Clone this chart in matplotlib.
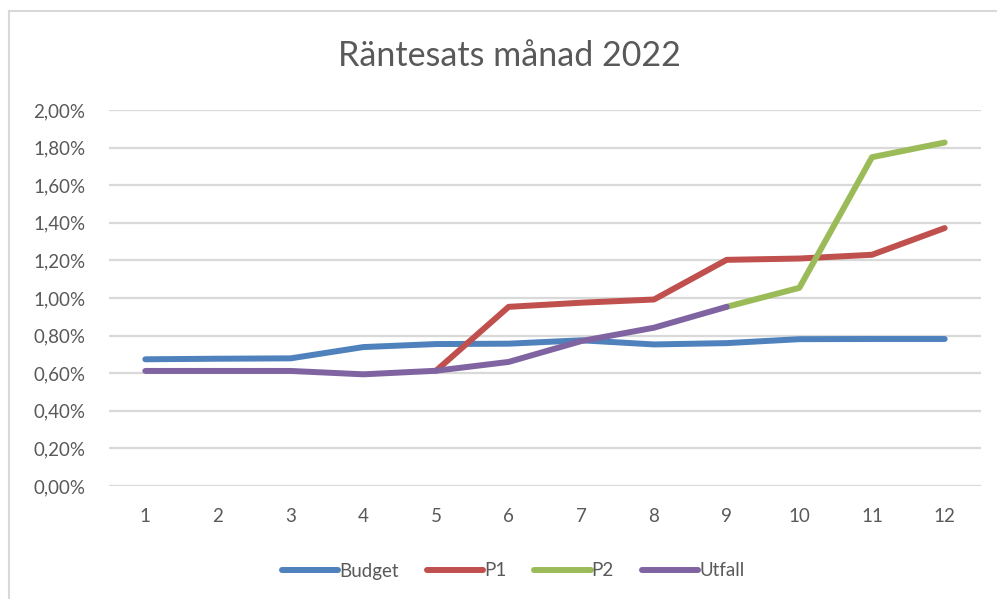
import numpy as np
import matplotlib
matplotlib.use("Agg")
import matplotlib.pyplot as plt
from matplotlib.lines import Line2D
from matplotlib.ticker import FuncFormatter

months = [1, 2, 3, 4, 5, 6, 7, 8, 9, 10, 11, 12]
nan = np.nan
budget = [0.674, 0.677, 0.679, 0.739, 0.755, 0.757, 0.775, 0.753, 0.760, 0.781, 0.782, 0.782]
p1 = [nan, nan, nan, nan, 0.613, 0.953, 0.975, 0.992, 1.203, 1.210, 1.230, 1.372]
p2 = [nan, nan, nan, nan, nan, nan, nan, nan, 0.953, 1.054, 1.749, 1.827]
utfall = [0.612, 0.612, 0.612, 0.594, 0.613, 0.660, 0.771, 0.842, 0.953, nan, nan, nan]
series_names = ["Budget", "P1", "P2", "Utfall"]
colors = ["#4F81BD", "#C0504D", "#9BBB59", "#8064A2"]
title = "Räntesats månad 2022"

plt.rcParams['font.family'] = ['Lato', 'DejaVu Sans']
txt = "#595959"

W, H = 997, 599
fig = plt.figure(figsize=(W / 100, H / 100), dpi=100)
ax = fig.add_axes([109 / W, 1 - 486 / H, (981 - 109) / W, (486 - 110) / H])

x = np.arange(len(months))
for vals, name, c in zip([budget, p1, p2, utfall], series_names, colors):
    ax.plot(x, vals, color=c, lw=4.3, solid_capstyle='round', solid_joinstyle='round', label=name)

ax.set_xlim(-0.5, len(months) - 0.5)
ax.set_ylim(0, 2.0)
ax.set_yticks(np.arange(0, 2.01, 0.2))
ax.yaxis.set_major_formatter(FuncFormatter(lambda v, p: f"{v:.2f}%".replace(".", ",")))
ax.set_xticks(x)
ax.set_xticklabels([str(m) for m in months])
ax.grid(axis='y', color='#d9d9d9', lw=1.6)
ax.set_axisbelow(True)
for s in ax.spines.values():
    s.set_visible(False)
ax.tick_params(length=0, labelsize=13.5, labelcolor=txt)
ax.tick_params(axis='y', pad=17)
ax.tick_params(axis='x', pad=16)

fig.text(509 / W, 1 - 56 / H, title, ha='center', va='center', fontsize=24.5, color=txt)

leg = fig.legend(loc='center', bbox_to_anchor=(513 / W, 1 - 571 / H), ncol=4, frameon=False,
                 fontsize=13.5, handlelength=3.0, handletextpad=0.05, columnspacing=1.5)
for t in leg.get_texts():
    t.set_color(txt)

# chart border
fig.add_artist(Line2D([9 / W, 9 / W], [0, 1 - 11 / H], transform=fig.transFigure, color='#d9d9d9', lw=1.5))
fig.add_artist(Line2D([9 / W, 1], [1 - 11 / H, 1 - 11 / H], transform=fig.transFigure, color='#d9d9d9', lw=1.5))

fig.savefig("out.png", dpi=100)
